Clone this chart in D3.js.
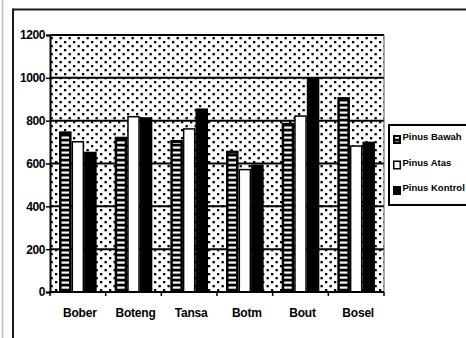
<!DOCTYPE html>
<html>
<head>
<meta charset="utf-8">
<script src="https://cdn.jsdelivr.net/npm/d3@7"></script>
<style>
  html, body { margin: 0; padding: 0; background: #fff; }
  svg { display: block; }
  text { font-family: "Liberation Sans", Arial, sans-serif; fill: #000; }
</style>
</head>
<body>
<svg id="chart" width="466" height="338"></svg>
<script>
// Pine stand sites
const categories = ["Bober", "Boteng", "Tansa", "Botm", "Bout", "Bosel"];
const seriesNames = ["Pinus Bawah", "Pinus Atas", "Pinus Kontrol"];
const pinusBawah = [750, 725, 710, 660, 790, 910];
const pinusAtas = [705, 822, 765, 575, 825, 685];
const pinusKontrol = [655, 816, 857, 595, 1002, 702];
const yTicks = [0, 200, 400, 600, 800, 1000, 1200];

const seriesValues = [pinusBawah, pinusAtas, pinusKontrol];
const rows = categories.map((c, i) => ({
  cat: c,
  vals: seriesNames.map((s, j) => ({ key: s, value: seriesValues[j][i] }))
}));

const svg = d3.select("#chart");
const W = 466, H = 338;
const plot = { left: 50, right: 384, top: 35, bottom: 292 };

// patterns
const defs = svg.append("defs");
const dots = defs.append("pattern").attr("id", "dots")
  .attr("patternUnits", "userSpaceOnUse").attr("width", 9).attr("height", 8);
dots.append("rect").attr("width", 9).attr("height", 8).attr("fill", "#fff");
dots.append("rect").attr("x", 1).attr("y", 1).attr("width", 2.3).attr("height", 2.3).attr("fill", "#000");
dots.append("rect").attr("x", 5.5).attr("y", 5).attr("width", 2.3).attr("height", 2.3).attr("fill", "#000");

const ladder = defs.append("pattern").attr("id", "ladder")
  .attr("patternUnits", "userSpaceOnUse").attr("width", 10).attr("height", 5);
ladder.append("rect").attr("width", 10).attr("height", 5).attr("fill", "#000");
ladder.append("rect").attr("y", 1.5).attr("width", 10).attr("height", 2.2).attr("fill", "#fff");

// outer frame
svg.append("line").attr("x1", 2.5).attr("x2", 2.5).attr("y1", 0).attr("y2", H)
  .attr("stroke", "#b8b8b8").attr("stroke-width", 1.5);
svg.append("line").attr("x1", 13).attr("x2", W).attr("y1", 9.5).attr("y2", 9.5)
  .attr("stroke", "#1a1a1a").attr("stroke-width", 2);
svg.append("line").attr("x1", 13).attr("x2", 13).attr("y1", 8.5).attr("y2", H)
  .attr("stroke", "#1a1a1a").attr("stroke-width", 2);

// scales
const x0 = d3.scaleBand().domain(categories).range([plot.left, plot.right]).padding(0);
const x1 = d3.scaleBand().domain(seriesNames).range([9, x0.bandwidth() - 9]).padding(0);
const y = d3.scaleLinear().domain([0, 1200]).range([plot.bottom, plot.top]);

// plot background
svg.append("rect").attr("x", plot.left).attr("y", plot.top)
  .attr("width", plot.right - plot.left).attr("height", plot.bottom - plot.top)
  .attr("fill", "url(#dots)");

// gridlines
svg.append("g").selectAll("line").data(yTicks.filter(t => t > 0 && t < 1200)).join("line")
  .attr("x1", plot.left).attr("x2", plot.right)
  .attr("y1", d => y(d)).attr("y2", d => y(d))
  .attr("stroke", "#000").attr("stroke-width", 2);

// plot border (top / right)
svg.append("line").attr("x1", plot.left).attr("x2", plot.right)
  .attr("y1", y(1200)).attr("y2", y(1200)).attr("stroke", "#000").attr("stroke-width", 2);
svg.append("line").attr("x1", plot.right).attr("x2", plot.right)
  .attr("y1", plot.top).attr("y2", plot.bottom).attr("stroke", "#555").attr("stroke-width", 1);

// bars
const groups = svg.append("g").selectAll("g").data(rows).join("g")
  .attr("transform", d => `translate(${x0(d.cat)},0)`);

groups.each(function(d) {
  const g = d3.select(this);
  d.vals.forEach((v, j) => {
    const bx = x1(v.key), bw = x1.bandwidth();
    const by = y(v.value), bh = y(0) - y(v.value);
    if (j === 0) {
      g.append("rect").attr("x", bx).attr("y", by).attr("width", bw).attr("height", bh).attr("fill", "#000");
      g.append("rect").attr("x", bx + 2.5).attr("y", by + 3).attr("width", bw - 5).attr("height", Math.max(0, bh - 3))
        .attr("fill", "url(#ladder)");
    } else if (j === 1) {
      g.append("rect").attr("x", bx + 0.75).attr("y", by + 0.75).attr("width", bw - 1.5).attr("height", bh - 0.75)
        .attr("fill", "#fff").attr("stroke", "#000").attr("stroke-width", 1.5);
    } else {
      g.append("rect").attr("x", bx).attr("y", by).attr("width", bw).attr("height", bh).attr("fill", "#000");
    }
  });
});

// y axis
const yAxis = svg.append("g").attr("transform", `translate(${plot.left},0)`)
  .call(d3.axisLeft(y).tickValues(yTicks).tickSize(4).tickPadding(1).tickFormat(d3.format("d")));
yAxis.select(".domain").attr("stroke", "#000").attr("stroke-width", 2);
yAxis.selectAll(".tick line").attr("stroke", "#000").attr("stroke-width", 1.5);
yAxis.selectAll(".tick text").attr("font-size", 12).attr("font-weight", "bold")
  .attr("font-family", "Liberation Sans, Arial, sans-serif").attr("letter-spacing", -0.4);

// x axis
const xAxis = svg.append("g").attr("transform", `translate(0,${plot.bottom})`)
  .call(d3.axisBottom(x0).tickSize(0).tickPadding(0));
xAxis.select(".domain").remove();
xAxis.selectAll(".tick text").remove();
svg.append("line").attr("x1", plot.left - 1).attr("x2", plot.right)
  .attr("y1", plot.bottom).attr("y2", plot.bottom).attr("stroke", "#000").attr("stroke-width", 2);
const bounds = categories.map(c => x0(c)).concat([plot.right]);
svg.append("g").selectAll("line").data(bounds).join("line")
  .attr("x1", d => d).attr("x2", d => d).attr("y1", plot.bottom).attr("y2", plot.bottom + 4)
  .attr("stroke", "#000").attr("stroke-width", 1.5);
svg.append("g").selectAll("text").data(categories).join("text")
  .attr("x", d => x0(d) + x0.bandwidth() / 2 + 2).attr("y", 316.5)
  .attr("text-anchor", "middle").attr("font-size", 12).attr("font-weight", "bold")
  .attr("letter-spacing", -0.2)
  .text(d => d);

// legend
const lg = svg.append("g");
lg.append("rect").attr("x", 389).attr("y", 125).attr("width", 100).attr("height", 80)
  .attr("fill", "#fff").attr("stroke", "#000").attr("stroke-width", 2);
const items = lg.selectAll("g").data(seriesNames).join("g")
  .attr("transform", (d, i) => `translate(393,${135 + i * 25.5})`);
items.each(function(d, i) {
  const g = d3.select(this);
  if (i === 0) {
    g.append("rect").attr("width", 8).attr("height", 9).attr("fill", "#000");
    g.append("rect").attr("x", 2).attr("y", 2).attr("width", 4).attr("height", 5).attr("fill", "url(#ladder)");
  } else if (i === 1) {
    g.append("rect").attr("x", 0.75).attr("y", 0.75).attr("width", 6.5).attr("height", 7.5)
      .attr("fill", "#fff").attr("stroke", "#000").attr("stroke-width", 1.5);
  } else {
    g.append("rect").attr("width", 8).attr("height", 9).attr("fill", "#000");
  }
  g.append("text").attr("x", 9.5).attr("y", 5).attr("font-size", 9.5).attr("font-weight", "bold")
    .text(d);
});
</script>
</body>
</html>
